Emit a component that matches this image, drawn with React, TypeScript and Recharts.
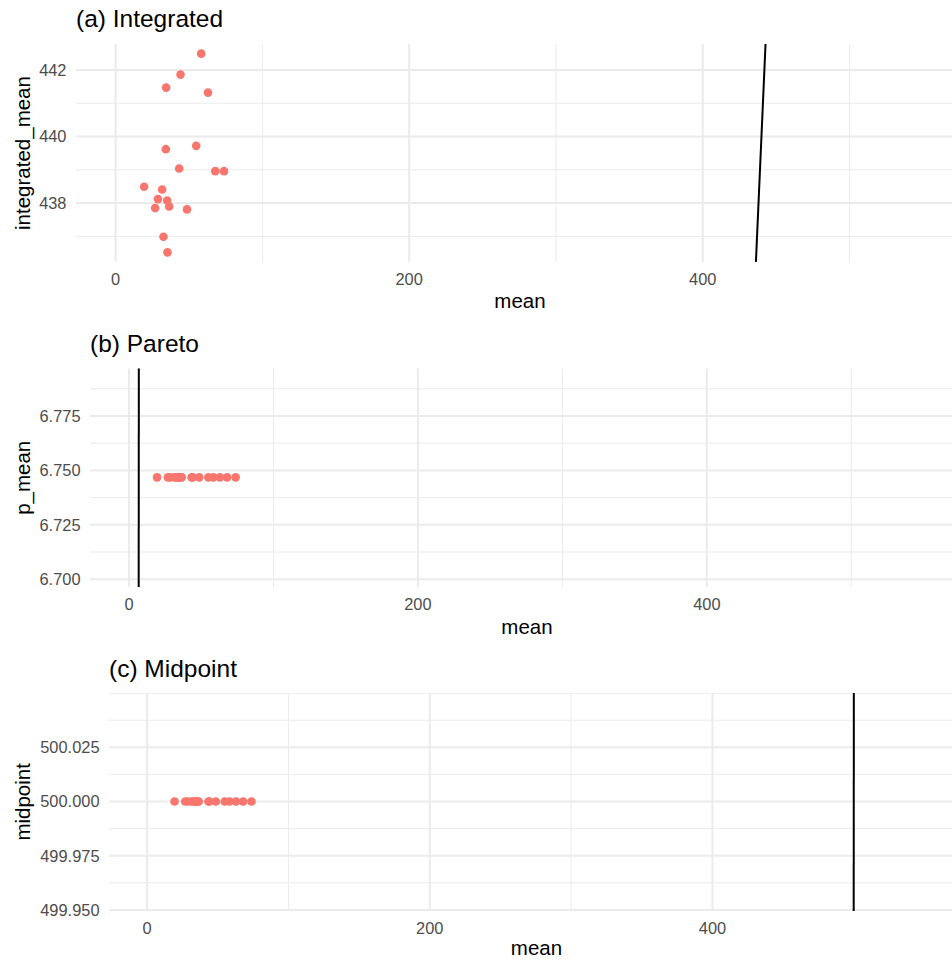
import React from "react";
import { ScatterChart, Scatter, XAxis, YAxis, ReferenceLine } from "recharts";

// values (same "mean" column in all three panels)
const MEAN = [
  58.3, 44.2, 34.4, 62.9, 54.9, 34.2, 43.3, 67.9, 73.8, 19.4, 31.7, 28.8, 35.1,
  26.9, 36.5, 48.6, 32.6, 35.3,
];
const INTEGRATED_MEAN = [
  442.49, 441.86, 441.47, 441.32, 439.72, 439.62, 439.04, 438.96, 438.96,
  438.49, 438.41, 438.12, 438.08, 437.85, 437.9, 437.81, 436.99, 436.52,
];
const P_MEAN = 6.7468;
const MIDPOINT = 500;

const X_TICKS = [0, 200, 400];
const X_MINOR = [100, 300, 500];
const X_DOMAIN: [number, number] = [-27, 578];

const A_TICKS = [438, 440, 442];
const A_MINOR = [437, 439, 441];
const A_DOMAIN: [number, number] = [436.23, 442.78];

const B_TICKS = [6.7, 6.725, 6.75, 6.775];
const B_MINOR = [6.7125, 6.7375, 6.7625, 6.7875];
const B_DOMAIN: [number, number] = [6.6963, 6.7969];

const C_TICKS = [499.95, 499.975, 500, 500.025];
const C_MINOR = [499.9625, 499.9875, 500.0125, 500.0375, 500.05];
const C_DOMAIN: [number, number] = [499.9495, 500.0502];

const FONT = '"Liberation Sans", Arial, sans-serif';
const GRID = "#EBEBEB";
const POINT = "#F8766D";
const CHART_W = 964;
const AXIS_H = 50;

interface PanelProps {
  title: string;
  yLabel: string;
  data: { x: number; y: number }[];
  yTicks: number[];
  yMinor: number[];
  yDomain: [number, number];
  digits: number;
  top: number;
  plotTop: number;
  plotBottom: number;
  plotLeft: number;
  titleBaseline: number;
  xLabelOffset: number;
}

function Panel(p: PanelProps) {
  const height = p.plotBottom - p.top + AXIS_H;
  const [lo, hi] = p.yDomain;
  return (
    <>
      <div
        style={{
          position: "absolute",
          left: p.plotLeft,
          top: p.titleBaseline - 20.7,
          fontSize: 24.5,
          lineHeight: "24.5px",
          color: "#000",
          whiteSpace: "nowrap",
        }}
      >
        {p.title}
      </div>
      <div style={{ position: "absolute", left: 0, top: p.top }}>
        <ScatterChart
          width={CHART_W}
          height={height}
          margin={{ top: p.plotTop - p.top, right: 0, bottom: 0, left: 0 }}
        >
          {/* grid: minor lines thin, major lines thick */}
          {X_MINOR.map((v) => (
            <ReferenceLine key={"xm" + v} x={v} stroke={GRID} strokeWidth={1} ifOverflow="hidden" />
          ))}
          {p.yMinor.map((v) => (
            <ReferenceLine key={"ym" + v} y={v} stroke={GRID} strokeWidth={1} ifOverflow="hidden" />
          ))}
          {X_TICKS.map((v) => (
            <ReferenceLine key={"xM" + v} x={v} stroke={GRID} strokeWidth={2} ifOverflow="hidden" />
          ))}
          {p.yTicks.map((v) => (
            <ReferenceLine key={"yM" + v} y={v} stroke={GRID} strokeWidth={2} ifOverflow="hidden" />
          ))}
          <XAxis
            type="number"
            dataKey="x"
            domain={X_DOMAIN}
            ticks={X_TICKS}
            allowDataOverflow
            axisLine={false}
            tickLine={false}
            tickSize={0}
            tickMargin={11}
            height={AXIS_H}
            tick={{ fill: "#4D4D4D", fontSize: 16.4 }}
            label={{
              value: "mean",
              position: "insideBottom",
              offset: p.xLabelOffset,
              fill: "#000",
              fontSize: 20.5,
            }}
          />
          <YAxis
            type="number"
            dataKey="y"
            domain={p.yDomain}
            ticks={p.yTicks}
            allowDataOverflow
            width={p.plotLeft}
            axisLine={false}
            tickLine={false}
            tickSize={0}
            tickMargin={9.5}
            tick={{ fill: "#4D4D4D", fontSize: 16.4 }}
            tickFormatter={(v: number) => v.toFixed(p.digits)}
            label={{
              value: p.yLabel,
              angle: -90,
              position: "insideLeft",
              offset: 22.7,
              fill: "#000",
              fontSize: 20.5,
              textAnchor: "middle",
              style: { textAnchor: "middle" },
            }}
          />
          {/* identity line y = x */}
          <ReferenceLine
            segment={[
              { x: lo, y: lo },
              { x: hi, y: hi },
            ]}
            stroke="#000"
            strokeWidth={2}
            ifOverflow="hidden"
          />
          <Scatter
            data={p.data}
            isAnimationActive={false}
            shape={(s: any) => <circle cx={s.cx} cy={s.cy} r={4.3} fill={POINT} />}
          />
        </ScatterChart>
      </div>
    </>
  );
}

export default function App() {
  const integrated = MEAN.map((m, i) => ({ x: m, y: INTEGRATED_MEAN[i] }));
  const pareto = MEAN.map((m) => ({ x: m, y: P_MEAN }));
  const midpoint = MEAN.map((m) => ({ x: m, y: MIDPOINT }));

  return (
    <div
      style={{
        position: "absolute",
        left: 0,
        top: 0,
        width: 952,
        height: 959,
        overflow: "hidden",
        background: "#fff",
        fontFamily: FONT,
      }}
    >
      <Panel
        title="(a) Integrated"
        yLabel="integrated_mean"
        data={integrated}
        yTicks={A_TICKS}
        yMinor={A_MINOR}
        yDomain={A_DOMAIN}
        digits={0}
        top={0}
        plotTop={44}
        plotBottom={262}
        plotLeft={76}
        titleBaseline={27.3}
        xLabelOffset={3.7}
      />
      <Panel
        title="(b) Pareto"
        yLabel="p_mean"
        data={pareto}
        yTicks={B_TICKS}
        yMinor={B_MINOR}
        yDomain={B_DOMAIN}
        digits={3}
        top={330}
        plotTop={368.3}
        plotBottom={587.3}
        plotLeft={90}
        titleBaseline={352.7}
        xLabelOffset={3.7}
      />
      <Panel
        title="(c) Midpoint"
        yLabel="midpoint"
        data={midpoint}
        yTicks={C_TICKS}
        yMinor={C_MINOR}
        yDomain={C_DOMAIN}
        digits={3}
        top={655}
        plotTop={692.7}
        plotBottom={911}
        plotLeft={109}
        titleBaseline={677.3}
        xLabelOffset={6.5}
      />
    </div>
  );
}
